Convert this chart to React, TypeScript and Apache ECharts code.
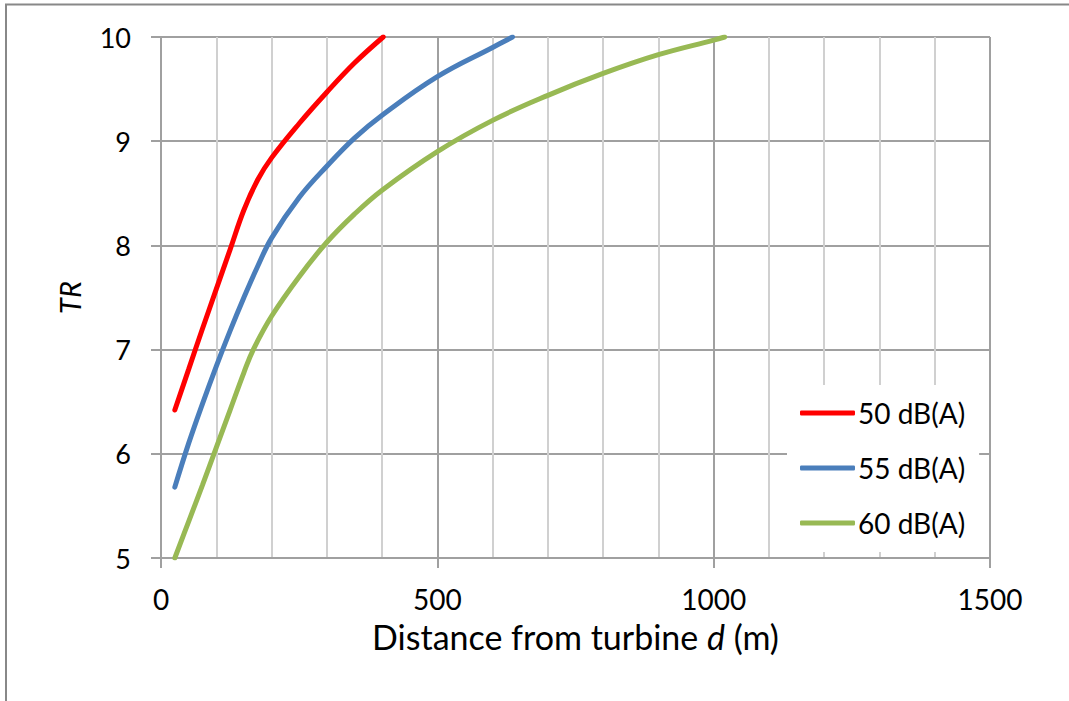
import React, { useEffect, useRef } from "react";
import * as echarts from "echarts";

const seriesNames = ["50 dB(A)", "55 dB(A)", "60 dB(A)"];

const d50 = [25, 50, 75, 100, 125, 150, 175, 200, 250, 300, 350, 402];
const tr50 = [6.42, 6.81, 7.2, 7.58, 7.96, 8.34, 8.63, 8.84, 9.17, 9.47, 9.75, 10.0];

const d55 = [25, 50, 75, 100, 125, 150, 175, 200, 250, 300, 350, 400, 500, 600, 636];
const tr55 = [5.68, 6.1, 6.48, 6.84, 7.18, 7.5, 7.8, 8.07, 8.46, 8.76, 9.03, 9.25, 9.62, 9.9, 10.0];

const d60 = [25, 50, 75, 100, 125, 150, 167, 200, 250, 300, 350, 400, 500, 600, 700, 800, 900, 1000, 1020];
const tr60 = [5.0, 5.35, 5.7, 6.06, 6.42, 6.78, 7.0, 7.32, 7.7, 8.03, 8.3, 8.53, 8.9, 9.2, 9.44, 9.65, 9.83, 9.97, 10.0];

const xTicks = [0, 500, 1000, 1500];
const yTicks = [5, 6, 7, 8, 9, 10];

const colors = ["#ff0000", "#4a7ebb", "#98b954"];

const FONT = "Lato";

function pairs(xs: number[], ys: number[]) {
  return xs.map((x, i) => [x, ys[i]]);
}

export default function App() {
  const ref = useRef<HTMLDivElement>(null);
  useEffect(() => {
    if (!ref.current) return;
    const chart = echarts.init(ref.current, null, { renderer: "svg" });
    const data = [pairs(d50, tr50), pairs(d55, tr55), pairs(d60, tr60)];
    chart.setOption({
      animation: false,
      backgroundColor: "#ffffff",
      textStyle: { fontFamily: FONT },
      grid: { left: 161, top: 37, right: 79, bottom: 143 },
      xAxis: {
        type: "value",
        min: xTicks[0],
        max: xTicks[xTicks.length - 1],
        interval: 500,
        name: "Distance from turbine {i|d} (m)",
        nameLocation: "middle",
        nameGap: 61,
        nameTextStyle: {
          fontFamily: FONT,
          fontSize: 34,
          color: "#000",
          rich: { i: { fontStyle: "italic", fontFamily: FONT, fontSize: 34, color: "#000" } },
        },
        axisLine: { show: true, lineStyle: { color: "#a0a0a0", width: 2 } },
        axisTick: { show: true, length: 10, lineStyle: { color: "#a0a0a0", width: 2 } },
        axisLabel: {
          fontFamily: FONT,
          fontSize: 28,
          color: "#000",
          margin: 27,
          formatter: (v: number) => String(v),
        },
        splitLine: { show: true, lineStyle: { color: "#a0a0a0", width: 2 } },
        minorTick: { show: false, splitNumber: 5 },
        minorSplitLine: { show: true, lineStyle: { color: "#d0d0d0", width: 2 } },
      },
      yAxis: {
        type: "value",
        min: yTicks[0],
        max: yTicks[yTicks.length - 1],
        interval: 1,
        name: "TR",
        nameLocation: "middle",
        nameRotate: 90,
        nameGap: 77,
        nameTextStyle: { fontFamily: FONT, fontSize: 29, fontStyle: "italic", color: "#000" },
        axisLine: { show: true, lineStyle: { color: "#a0a0a0", width: 2 } },
        axisTick: { show: true, length: 10, lineStyle: { color: "#a0a0a0", width: 2 } },
        axisLabel: { fontFamily: FONT, fontSize: 27, color: "#000", margin: 30 },
        splitLine: { show: true, lineStyle: { color: "#a0a0a0", width: 2 } },
      },
      legend: {
        orient: "vertical",
        left: 787,
        top: 385,
        padding: [13, 14, 14, 13],
        backgroundColor: "#ffffff",
        itemWidth: 55,
        itemHeight: 5,
        itemGap: 25,
        icon: "roundRect",
        textStyle: { fontFamily: FONT, fontSize: 28, color: "#000", lineHeight: 30, padding: [0, 0, 0, -2] },
        data: seriesNames,
      },
      series: seriesNames.map((name, i) => ({
        name,
        type: "line",
        data: data[i],
        smooth: 0.4,
        symbol: "none",
        clip: true,
        lineStyle: { color: colors[i], width: 5, cap: "round" },
        itemStyle: { color: colors[i] },
        z: 3,
      })),
      graphic: [
        {
          type: "rect",
          shape: { x: 6, y: 4.5, width: 1200, height: 900 },
          style: { fill: "none", stroke: "#888888", lineWidth: 2 },
          silent: true,
          z: 100,
        },
      ],
    });
    return () => chart.dispose();
  }, []);
  return (
    <div
      ref={ref}
      style={{ position: "absolute", left: 0, top: 0, width: 1069, height: 701 }}
    />
  );
}
